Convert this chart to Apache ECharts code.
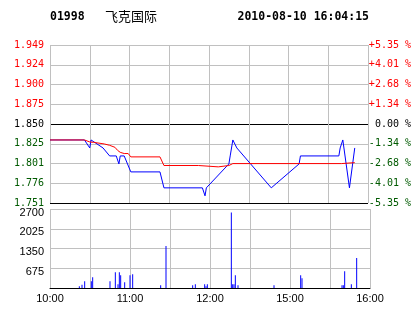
<!DOCTYPE html>
<html><head><meta charset="utf-8">
<script src="https://cdn.jsdelivr.net/npm/echarts@6/dist/echarts.min.js"></script>
<style>html,body{margin:0;padding:0;background:#fff}#c{width:414px;height:314px}</style>
</head><body><div id="c"></div>
<script>
const stockCode = '01998';
const stockName = '飞克国际';
const stamp = '2010-08-10 16:04:15';
const prevClose = 1.85;

const priceTicks = ['1.751','1.776','1.801','1.825','1.850','1.875','1.900','1.924','1.949'];
const pctTicks = ['-5.35 %','-4.01 %','-2.68 %','-1.34 %','0.00 %','+1.34 %','+2.68 %','+4.01 %','+5.35 %'];
const timeTicks = ['10:00','','11:00','','12:00','','15:00','','16:00'];
const volTicks = ['','675','1350','2025','2700'];

const priceTimes = ['10:00','10:26','10:30','10:31','10:40','10:45','10:50','10:52','10:53','10:56','11:01','11:23','11:26','11:55','11:57','11:58','12:15','12:16','12:18','12:21','14:47','15:08','15:09','15:38','15:39','15:41','15:46','15:50'];
const priceValues = [1.83,1.83,1.82,1.83,1.82,1.81,1.81,1.80,1.81,1.81,1.79,1.79,1.77,1.77,1.76,1.77,1.80,1.81,1.83,1.82,1.77,1.80,1.81,1.81,1.82,1.83,1.77,1.82];

const avgTimes = ['10:00','10:26','10:30','10:33','10:41','10:45','10:49','10:51','10:53','10:56','10:59','11:01','11:23','11:26','11:52','11:53','12:07','12:08','12:15','12:18','15:40','15:41','15:50'];
const avgValues = [1.830,1.830,1.8275,1.827,1.825,1.8233,1.8208,1.817,1.8145,1.813,1.813,1.8088,1.8088,1.798,1.798,1.7963,1.7963,1.798,1.798,1.8004,1.8004,1.8016,1.8016];

const volTimes = ['10:22','10:24','10:26','10:31','10:32','10:45','10:49','10:51','10:52','10:53','10:56','11:00','11:02','11:23','11:27','11:47','11:49','11:56','11:57','11:58','12:16','12:17','12:18','12:19','12:21','14:48','15:08','15:09','15:39','15:40','15:41','15:46','15:50'];
const volValues = [57,115,230,230,368,230,540,126,540,437,195,437,471,92,1436,92,126,126,57,126,2580,126,126,437,92,92,437,333,92,92,575,126,1023];

const C_UP = '#ff0000', C_DN = '#005a00', C_GRID = '#c0c0c0';
const STEP = 1.3375; // percent per grid step

function minuteIndex(t) {
  const [h, m] = t.split(':').map(Number);
  const mins = h * 60 + m;
  return mins <= 750 ? mins - 600 : 150 + (mins - 870);
}
function toUnits(p) { return (p / prevClose - 1) * 100 / STEP; }

const monoFont = 'DejaVu Sans Mono';
function richStyles() {
  return {
    u: { color: C_UP, fontFamily: monoFont, fontSize: 10 },
    d: { color: C_DN, fontFamily: monoFont, fontSize: 10 },
    z: { color: '#000', fontFamily: monoFont, fontSize: 10 }
  };
}
function styleKey(i) { return i > 4 ? 'u' : (i < 4 ? 'd' : 'z'); }

const chart = echarts.init(document.getElementById('c'), null, { renderer: 'canvas' });
chart.setOption({
  animation: false,
  backgroundColor: '#fff',
  graphic: [
    { type: 'text', x: 50, y: 17, style: { text: stockCode, font: 'bold 11.5px "DejaVu Sans Mono"', fill: '#000', align: 'left', verticalAlign: 'middle' } },
    { type: 'text', x: 105, y: 16, style: { text: stockName, font: '13px "Noto Sans CJK SC"', fill: '#000', align: 'left', verticalAlign: 'middle' } },
    { type: 'text', x: 237.5, y: 17, style: { text: stamp, font: 'bold 11.5px "DejaVu Sans Mono"', fill: '#000', align: 'left', verticalAlign: 'middle' } }
  ],
  grid: [
    { left: 50, top: 45, width: 320, height: 158 },
    { left: 50, top: 209, width: 320, height: 79 }
  ],
  xAxis: [
    { gridIndex: 0, type: 'value', min: 0, max: 240, interval: 30,
      axisLine: { show: false }, axisTick: { show: false }, axisLabel: { show: false },
      splitLine: { show: true, lineStyle: { color: C_GRID, width: 1 } } },
    { gridIndex: 1, type: 'value', min: 0, max: 240, interval: 30,
      axisLine: { show: true, lineStyle: { color: '#000', width: 1 } }, axisTick: { show: false },
      axisLabel: { formatter: v => timeTicks[Math.round(v / 30)] || '', color: '#000', fontFamily: 'Liberation Sans', fontSize: 11, margin: 5, showMinLabel: true, showMaxLabel: true },
      splitLine: { show: true, lineStyle: { color: C_GRID, width: 1 } } }
  ],
  yAxis: [
    { gridIndex: 0, type: 'value', min: -4, max: 4, interval: 1,
      axisLine: { show: false }, axisTick: { show: false },
      axisLabel: { margin: 6, rich: richStyles(), formatter: v => { const i = Math.round(v) + 4; return '{' + styleKey(i) + '|' + priceTicks[i] + '}'; } },
      splitLine: { show: true, lineStyle: { width: 1, color: ['#000', C_GRID, C_GRID, C_GRID, '#000', C_GRID, C_GRID, C_GRID, C_GRID] } } },
    { gridIndex: 0, type: 'value', position: 'right', min: -4, max: 4, interval: 1,
      axisLine: { show: false }, axisTick: { show: false }, splitLine: { show: false },
      axisLabel: { margin: 43, align: 'right', rich: richStyles(), formatter: v => { const i = Math.round(v) + 4; return '{' + styleKey(i) + '|' + pctTicks[i] + '}'; } } },
    { gridIndex: 1, type: 'value', min: 0, max: 2700, interval: 675,
      axisLine: { show: false }, axisTick: { show: false },
      axisLabel: { margin: 6, color: '#000', fontFamily: 'Liberation Sans', fontSize: 11, verticalAlign: 'top', lineHeight: 7, formatter: v => volTicks[Math.round(v / 675)] || '' },
      splitLine: { show: true, lineStyle: { color: C_GRID, width: 1 } } }
  ],
  series: [
    { type: 'line', xAxisIndex: 0, yAxisIndex: 0, symbol: 'none', showSymbol: false, z: 3,
      lineStyle: { color: '#0000ff', width: 1 },
      data: priceTimes.map((t, i) => [minuteIndex(t), toUnits(priceValues[i])]) },
    { type: 'line', xAxisIndex: 0, yAxisIndex: 0, symbol: 'none', showSymbol: false, z: 4,
      lineStyle: { color: '#ff0000', width: 1 },
      data: avgTimes.map((t, i) => [minuteIndex(t), toUnits(avgValues[i])]) },
    { type: 'bar', xAxisIndex: 1, yAxisIndex: 2, barWidth: 1, z: 3,
      itemStyle: { color: '#0000ff' },
      data: volTimes.map((t, i) => [minuteIndex(t), volValues[i]]) }
  ]
});
</script>
</body></html>
